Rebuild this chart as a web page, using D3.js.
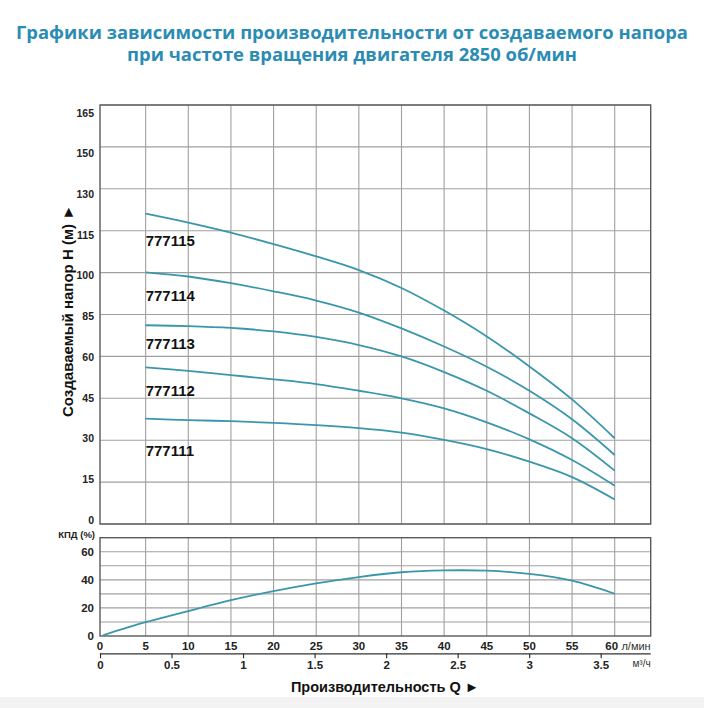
<!DOCTYPE html>
<html><head><meta charset="utf-8">
<script src="https://cdn.jsdelivr.net/npm/d3@7"></script>
<style>
html,body{margin:0;padding:0;background:#fff;}
svg{display:block;}
</style></head>
<body>
<svg id="c" width="704" height="708"></svg>
<script>
// ---- data ----
const titleLines = ["Графики зависимости производительности от создаваемого напора", "при частоте вращения двигателя 2850 об/мин"];
const hTicks = [0, 15, 30, 45, 60, 85, 100, 115, 130, 150, 165];
const qTicks = [0, 5, 10, 15, 20, 25, 30, 35, 40, 45, 50, 55, 60];
const m3Ticks = [0, 0.5, 1, 1.5, 2, 2.5, 3, 3.5];
const effTicks = [0, 20, 40, 60];
const effGrid = [10, 20, 30, 40, 50, 60];
const qCurve = [5, 10, 15, 20, 25, 30, 35, 40, 45, 50, 55, 60];
const models = ["777115", "777114", "777113", "777112", "777111"];
const h777115 = [121.1, 117.9, 114.3, 110.2, 105.8, 100.9, 94.5, 86.4, 71.9, 56.4, 44.6, 30.7];
const h777114 = [100.1, 98.6, 96.2, 93.3, 90.0, 85.7, 76.7, 65.9, 56.3, 47.7, 37.5, 24.7];
const h777113 = [78.6, 78.1, 77.0, 74.9, 71.6, 66.8, 60.0, 54.4, 47.7, 39.6, 30.7, 19.1];
const h777112 = [56.1, 54.8, 53.3, 51.8, 50.1, 47.7, 45.0, 41.4, 36.4, 30.3, 22.9, 13.7];
const h777111 = [37.7, 37.2, 36.8, 36.2, 35.4, 34.3, 32.7, 30.1, 26.8, 22.3, 16.8, 8.8];
const labelH = [109.6, 89.9, 64.4, 45.8, 24.5];
const qEff = [0, 5, 10, 15, 20, 25, 30, 35, 40, 45, 50, 55, 60];
const eff = [0.5, 9.8, 17.8, 25.5, 32, 37.5, 42, 45.4, 46.7, 46.5, 44.2, 39.4, 30.1];

const heads = [h777115, h777114, h777113, h777112, h777111];

// ---- layout ----
const L = 100, R = 650.7;
const T1 = 105, B1 = 524;
const T2 = 537.7, B2 = 636;
const curveColor = "#3a97ab";
const gridColor = "#a0a0a0";
const frameColor = "#5a5a5a";
const fontB = "'Liberation Sans', Arial, sans-serif";

const svg = d3.select("#c");
svg.append("rect").attr("x", 0).attr("y", 697).attr("width", 704).attr("height", 11).attr("fill", "#f3f3f3");

// title
svg.append("g").selectAll("text").data(titleLines).join("text")
  .attr("x", 352).attr("y", (d, i) => 38.5 + i * 22)
  .attr("text-anchor", "middle")
  .attr("font-family", "'Open Sans', sans-serif").attr("font-weight", 700)
  .attr("font-size", 18.4).attr("fill", "#2b8cb3")
  .text(d => d);

// scales
const x = d3.scaleLinear().domain([0, 60]).range([103, 614.7]);
const xm = d3.scaleLinear().domain([0, 3.5]).range([100, 600.7]);
const yH = d3.scaleLinear().domain(hTicks).range(hTicks.map((d, i) => B1 - i * (B1 - T1) / (hTicks.length - 1)));
const yHLabel = d3.scalePoint().domain(hTicks).range([520, 113]);
const yE = d3.scaleLinear().domain([0, 70]).range([B2, T2]);

// ---- main chart grid ----
const g1 = svg.append("g");
g1.selectAll("line.h").data(hTicks).join("line")
  .attr("x1", L).attr("x2", R).attr("y1", d => yH(d)).attr("y2", d => yH(d))
  .attr("stroke", gridColor).attr("stroke-width", 1.1);
g1.selectAll("line.v").data(qTicks.slice(1)).join("line")
  .attr("x1", d => x(d)).attr("x2", d => x(d)).attr("y1", T1).attr("y2", B1)
  .attr("stroke", gridColor).attr("stroke-width", 1.1);
g1.append("rect").attr("x", L).attr("y", T1).attr("width", R - L).attr("height", B1 - T1)
  .attr("fill", "none").attr("stroke", frameColor).attr("stroke-width", 1.4);

// y tick labels
g1.selectAll("text.yt").data(hTicks).join("text")
  .attr("x", 94).attr("y", d => yHLabel(d)).attr("dy", "0.35em")
  .attr("text-anchor", "end").attr("font-family", fontB).attr("font-weight", 700)
  .attr("font-size", 10.5).attr("fill", "#222").text(d => d);

// y axis title
svg.append("text")
  .attr("transform", "translate(73,311) rotate(-90)")
  .attr("text-anchor", "middle").attr("font-family", fontB).attr("font-weight", 700)
  .attr("font-size", 15).attr("fill", "#111")
  .text("Создаваемый напор Н (м) ►");

// curves
const line = d3.line().x(d => x(d[0])).y(d => yH(d[1])).curve(d3.curveCatmullRom.alpha(0.5));
g1.selectAll("path.c").data(heads).join("path")
  .attr("d", h => line(qCurve.map((q, i) => [q, h[i]])))
  .attr("fill", "none").attr("stroke", curveColor).attr("stroke-width", 1.8);

// model labels
g1.selectAll("text.m").data(models).join("text")
  .attr("x", x(5)).attr("y", (d, i) => yH(labelH[i]))
  .attr("font-family", fontB).attr("font-weight", 700).attr("font-size", 15)
  .attr("fill", "#111").text(d => d);

// ---- efficiency chart ----
const g2 = svg.append("g");
g2.selectAll("line.h").data(effGrid).join("line")
  .attr("x1", L).attr("x2", R).attr("y1", d => yE(d)).attr("y2", d => yE(d))
  .attr("stroke", gridColor).attr("stroke-width", 1.1);
g2.selectAll("line.v").data(qTicks.slice(1)).join("line")
  .attr("x1", d => x(d)).attr("x2", d => x(d)).attr("y1", T2).attr("y2", B2)
  .attr("stroke", gridColor).attr("stroke-width", 1.1);
g2.append("rect").attr("x", L).attr("y", T2).attr("width", R - L).attr("height", B2 - T2)
  .attr("fill", "none").attr("stroke", frameColor).attr("stroke-width", 1.4);
g2.selectAll("text.yt").data(effTicks).join("text")
  .attr("x", 94).attr("y", d => yE(d)).attr("dy", "0.35em")
  .attr("text-anchor", "end").attr("font-family", fontB).attr("font-weight", 700)
  .attr("font-size", 11.5).attr("fill", "#222").text(d => d);
svg.append("text").attr("x", 95).attr("y", 538).attr("text-anchor", "end")
  .attr("font-family", fontB).attr("font-weight", 700).attr("font-size", 9.5)
  .attr("fill", "#222").text("КПД (%)");

const effLine = d3.line().x(d => x(d[0])).y(d => yE(d[1])).curve(d3.curveCatmullRom.alpha(0.5));
g2.append("path").attr("d", effLine(qEff.map((q, i) => [q, eff[i]])))
  .attr("fill", "none").attr("stroke", curveColor).attr("stroke-width", 1.8);

// ---- x axes ----
svg.append("g").selectAll("text").data(qTicks).join("text")
  .attr("x", d => d === 0 ? 100 : (d === 60 ? x(d) - 3 : x(d))).attr("y", 646).attr("dy", "0.35em")
  .attr("text-anchor", "middle").attr("font-family", fontB).attr("font-weight", 700)
  .attr("font-size", 11.5).attr("fill", "#222").text(d => d);
svg.append("text").attr("x", R).attr("y", 646.5).attr("dy", "0.35em").attr("text-anchor", "end")
  .attr("font-family", fontB).attr("font-size", 11).attr("fill", "#333").text("л/мин");

const xAxisM = d3.axisBottom(xm).tickValues(m3Ticks).tickSize(5).tickFormat(d => d);
const ga = svg.append("g").attr("transform", "translate(0,653.3)").call(xAxisM);
ga.select(".domain").attr("d", `M${L},0.5H${R}`).attr("stroke", "#333").attr("stroke-width", 1.2);
ga.selectAll(".tick line").attr("stroke", "#333").attr("stroke-width", 1.2);
ga.selectAll(".tick text").attr("y", 8).attr("font-family", fontB).attr("font-weight", 700)
  .attr("font-size", 11.5).attr("fill", "#222");
svg.append("text").attr("x", R).attr("y", 663).attr("dy", "0.35em").attr("text-anchor", "end")
  .attr("font-family", fontB).attr("font-size", 10).attr("fill", "#333").text("м³/ч");

svg.append("text").attr("x", 385).attr("y", 692).attr("text-anchor", "middle")
  .attr("font-family", fontB).attr("font-weight", 700).attr("font-size", 14.5)
  .attr("fill", "#111").text("Производительность Q ►");
</script>
</body></html>
